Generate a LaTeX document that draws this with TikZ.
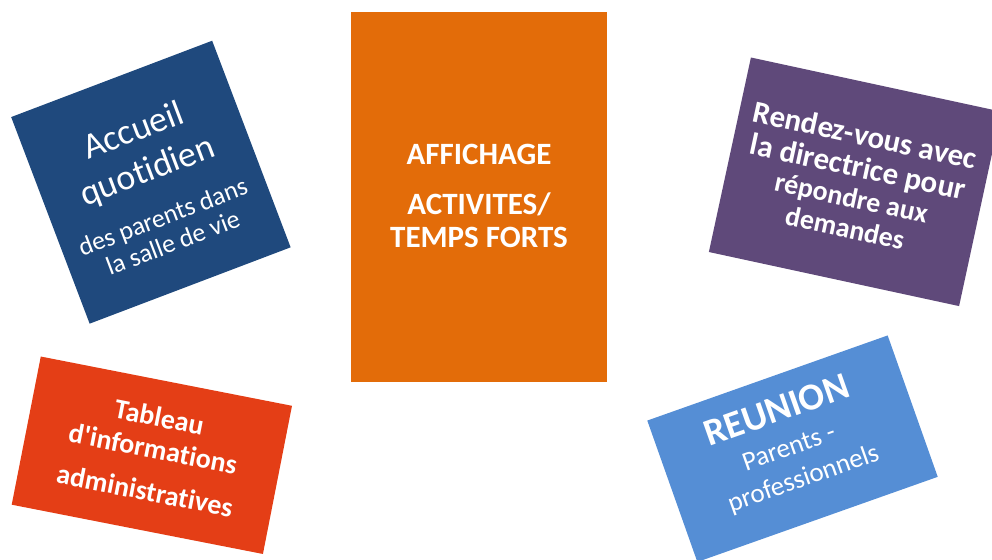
\documentclass[tikz,border=0pt]{standalone}
\usepackage{fontspec}
% Carlito without the common ligatures (no "ti", no curly quotes)
\newfontfamily\cardfont{Carlito}[Ligatures=NoCommon]
\definecolor{cardnavy}{HTML}{1F497D}
\definecolor{cardorange}{HTML}{E36C09}
\definecolor{cardpurple}{HTML}{5F497A}
\definecolor{cardred}{HTML}{E43E16}
\definecolor{cardsky}{HTML}{558ED5}
\begin{document}
\begin{tikzpicture}[x=1pt,y=1pt,
  card/.style={fill=#1, draw=none, inner sep=0pt},
  txt/.style={text=white, anchor=base, inner sep=0pt},
  big/.style={font=\cardfont\fontsize{36}{40}\selectfont},
  small/.style={font=\cardfont\fontsize{26}{30}\selectfont},
  boldtxt/.style={font=\cardfont\bfseries\fontsize{#1}{#1}\selectfont},
  plaintxt/.style={font=\cardfont\fontsize{#1}{#1}\selectfont},
]
\useasboundingbox (0,0) rectangle (992,559);
\clip (0,0) rectangle (992,559);

% daily welcome card
\begin{scope}[shift={(150.9,376.8)}, rotate=20.8, transform shape]
  \node[card=cardnavy, minimum width=215pt, minimum height=221pt] (accueil) at (0,0) {};
  \node[txt, big] (accueilA) at (1.7,43.5) {Accueil};
  \node[txt, big] (accueilB) at (0.6,1.1) {quotidien};
  \node[txt, small] (accueilC) at (-1.2,-45.3) {des parents dans};
  \node[txt, small] (accueilD) at (-1,-73.1) {la salle de vie};
\end{scope}

% notice board card
\begin{scope}[shift={(479,362)}]
  \node[card=cardorange, minimum width=256pt, minimum height=370pt] (affichage) at (0,0) {};
  \node[txt, boldtxt=31] (affA) at (0,32) {AFFICHAGE};
  \node[txt, boldtxt=31] (affB) at (0,-18) {ACTIVITES/};
  \node[txt, boldtxt=31] (affC) at (0,-51) {TEMPS FORTS};
\end{scope}

% appointment card
\begin{scope}[shift={(855,377.2)}, rotate=-12.2, transform shape]
  \node[card=cardpurple, minimum width=256pt, minimum height=199pt] (rdv) at (0,0) {};
  \node[txt, boldtxt=31] (rdvA) at (0,37) {Rendez-vous avec};
  \node[txt, boldtxt=31] (rdvB) at (0,5) {la directrice pour};
  \node[txt, boldtxt=28] (rdvC) at (0,-26) {répondre aux};
  \node[txt, boldtxt=28] (rdvD) at (0,-57) {demandes};
\end{scope}

% administrative board card
\begin{scope}[shift={(151.85,103.75)}, rotate=-11.1, transform shape]
  \node[card=cardred, minimum width=256pt, minimum height=151pt] (tableau) at (0,0) {};
  \node[txt, boldtxt=28] (tabA) at (0,29.1) {Tableau};
  \node[txt, boldtxt=28] (tabB) at (0,-3.1) {d'informations};
  \node[txt, boldtxt=28] (tabC) at (0,-45.6) {administratives};
\end{scope}

% meeting card
\begin{scope}[shift={(792.5,110.3)}, rotate=19.5, transform shape]
  \node[card=cardsky, minimum width=255pt, minimum height=150pt] (reunion) at (0,0) {};
  \node[txt, boldtxt=38] (reuA) at (-2,29.6) {REUNION};
  \node[txt, plaintxt=27] (reuB) at (-3,-5.8) {Parents -};
  \node[txt, plaintxt=27] (reuC) at (0.3,-39.6) {professionnels};
\end{scope}
\end{tikzpicture}
\end{document}
